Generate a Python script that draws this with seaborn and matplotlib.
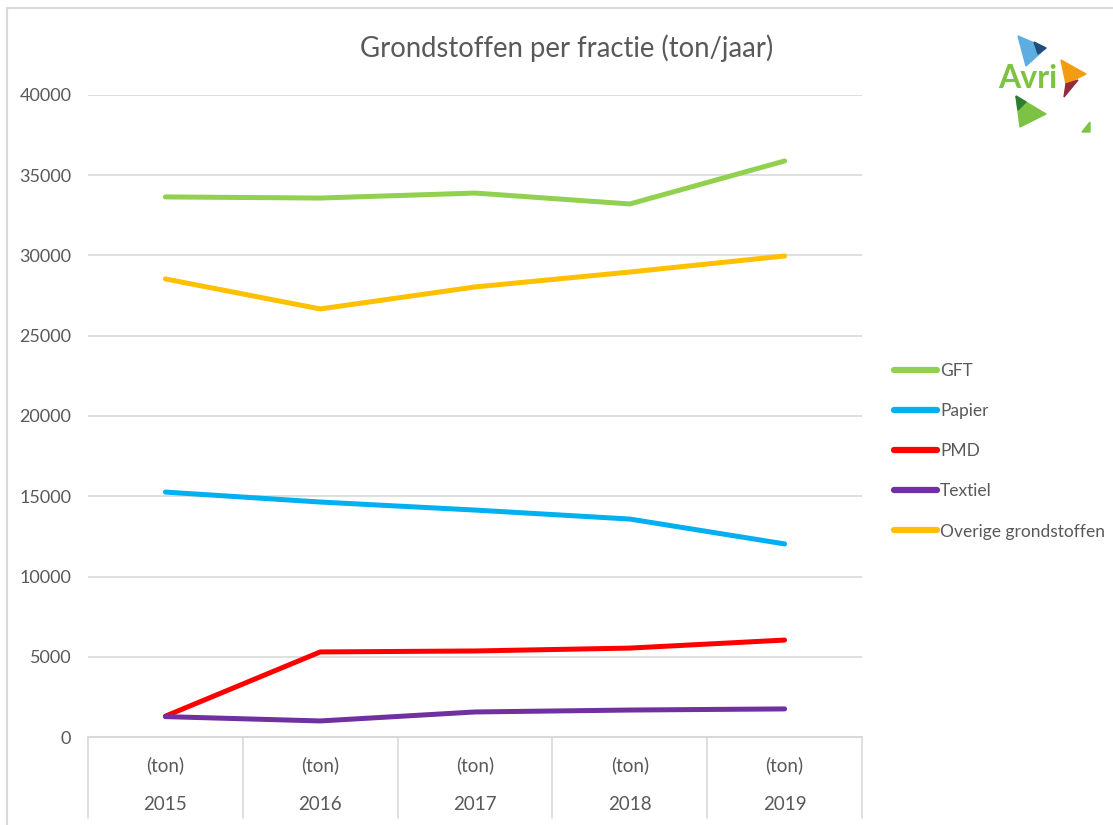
import matplotlib
matplotlib.use("Agg")
import matplotlib.pyplot as plt
import matplotlib.lines as mlines
import matplotlib.patches as mpatches
import seaborn as sns
import pandas as pd

years = ["2015", "2016", "2017", "2018", "2019"]
unit_labels = ["(ton)", "(ton)", "(ton)", "(ton)", "(ton)"]
series_names = ["GFT", "Papier", "PMD", "Textiel", "Overige grondstoffen"]
gft = [33650, 33580, 33890, 33210, 35890]
papier = [15260, 14640, 14140, 13580, 12030]
pmd = [1300, 5300, 5360, 5540, 6040]
textiel = [1270, 1000, 1560, 1680, 1750]
overige = [28540, 26670, 28040, 28970, 29970]
yticks = [0, 5000, 10000, 15000, 20000, 25000, 30000, 35000, 40000]
title = "Grondstoffen per fractie (ton/jaar)"

colors = ["#92D050", "#00B0F0", "#FF0000", "#7030A0", "#FFC000"]
values = [gft, papier, pmd, textiel, overige]

rows = []
for name, vals in zip(series_names, values):
    for i, v in enumerate(vals):
        rows.append({"pos": i, "value": v, "serie": name})
df = pd.DataFrame(rows)

sns.set_theme(style="white")
plt.rcParams["font.family"] = ["Lato", "DejaVu Sans"]
TXT = "#595959"
GRID = "#D9D9D9"

fig = plt.figure(figsize=(11.13, 8.25), dpi=100)
ax = fig.add_axes([88/1113, 1-737/825, (862-88)/1113, (737-95)/825])

sns.lineplot(data=df, x="pos", y="value", hue="serie", hue_order=series_names,
             palette=colors, linewidth=3.6, ax=ax, legend=True,
             solid_capstyle="round")

ax.set_xlim(-0.5, len(years) - 0.5)
ax.set_ylim(0, 40000)
ax.set_yticks(yticks)
ax.set_yticklabels([str(t) for t in yticks], color=TXT, fontsize=13)
ax.tick_params(axis="y", length=0, pad=12)
ax.set_xticks([])
ax.set_xlabel("")
ax.set_ylabel("")
for s in ax.spines.values():
    s.set_visible(False)
ax.yaxis.grid(True, color=GRID, linewidth=1.2)
ax.set_axisbelow(True)

# category axis boxes
trans = ax.get_xaxis_transform()
ax_h_px = 737 - 95
def yfrac(py):
    return (737 - py) / ax_h_px
ax.plot([-0.5, len(years) - 0.5], [0, 0], transform=trans, color=GRID,
        lw=1.5, clip_on=False)
for k in range(len(years) + 1):
    x = k - 0.5
    ax.plot([x, x], [0, yfrac(818)], transform=trans, color=GRID, lw=1.2,
            clip_on=False)
for i, (u, yr) in enumerate(zip(unit_labels, years)):
    ax.text(i, yfrac(765), u, transform=trans, ha="center", va="center",
            color=TXT, fontsize=13.5)
    ax.text(i, yfrac(805), yr, transform=trans, ha="center", va="center",
            color=TXT, fontsize=13.5)

# legend
leg = ax.legend(loc="upper left", bbox_to_anchor=(894/1113, 1-363/825),
                bbox_transform=fig.transFigure, frameon=False, fontsize=12.5,
                handlelength=2.45, handletextpad=0.2, labelspacing=1.39,
                borderaxespad=0, borderpad=0)
for t in leg.get_texts():
    t.set_color(TXT)
for h in leg.get_lines():
    h.set_linewidth(4.5)

fig.text(567/1113, 1-48/825, title, ha="center", va="center", color=TXT,
         fontsize=19.8)

# frame border (top & left visible)
fig.add_artist(mlines.Line2D([7/1113, 1], [1-8/825, 1-8/825], color=GRID, lw=1.5))
fig.add_artist(mlines.Line2D([7/1113, 7/1113], [0, 1-8/825], color=GRID, lw=1.5))

# logo
def px(x, y):
    return (x/1113, 1-y/825)
fig.patches.append(mpatches.Polygon([px(1018, 36), px(1046, 48), px(1026, 66)],
                                    closed=True, color="#5DADE2", transform=fig.transFigure))
fig.patches.append(mpatches.Polygon([px(1034, 42), px(1046, 48), px(1038, 54)],
                                    closed=True, color="#1F4E79", transform=fig.transFigure))
fig.patches.append(mpatches.Polygon([px(1061, 60), px(1086, 74), px(1066, 84)],
                                    closed=True, color="#F39C12", transform=fig.transFigure))
fig.patches.append(mpatches.Polygon([px(1066, 84), px(1078, 80), px(1064, 97)],
                                    closed=True, color="#922B3E", transform=fig.transFigure))
fig.patches.append(mpatches.Polygon([px(1016, 96), px(1046, 114), px(1020, 127)],
                                    closed=True, color="#7DC242", transform=fig.transFigure))
fig.patches.append(mpatches.Polygon([px(1016, 96), px(1026, 102), px(1018, 110)],
                                    closed=True, color="#2E7D32", transform=fig.transFigure))
fig.patches.append(mpatches.Polygon([px(1082, 132), px(1090, 122), px(1090, 132)],
                                    closed=True, color="#7DC242", transform=fig.transFigure))
fig.text(1028/1113, 1-78/825, "Avri", ha="center", va="center", color="#7DC242",
         fontsize=23, fontweight="bold")

fig.savefig("out.png", dpi=100)
